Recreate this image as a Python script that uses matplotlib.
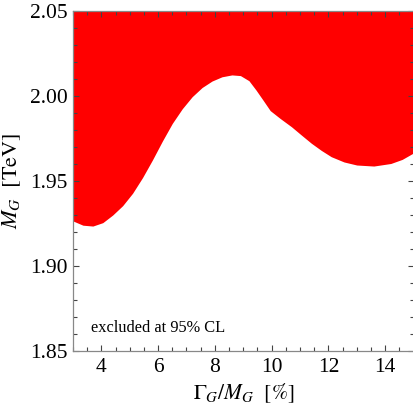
import matplotlib
matplotlib.use('Agg')
from matplotlib import pyplot as plt
from matplotlib.ticker import MultipleLocator, FormatStrFormatter

plt.rcParams['font.family'] = ['Liberation Serif', 'DejaVu Serif']
plt.rcParams['mathtext.fontset'] = 'stix'

# boundary of the excluded region (width in %, mass in TeV)
width = [3.0, 3.35, 3.7, 4.05, 4.4, 4.75, 5.1, 5.45, 5.8, 6.15, 6.5, 6.85,
         7.2, 7.55, 7.9, 8.25, 8.6, 8.9, 9.2, 9.45, 9.7, 9.95,
         10.3, 10.7, 11.05, 11.4, 11.75, 12.1, 12.55, 13.0, 13.6, 14.2, 14.6, 15.0]
mass = [1.9265, 1.9240, 1.9235, 1.9255, 1.9300, 1.9355, 1.9428, 1.9520, 1.9624,
        1.9735, 1.9839, 1.9925, 1.9996, 2.0050, 2.0088, 2.0113, 2.0124, 2.0120,
        2.0090, 2.0035, 1.9975, 1.9914, 1.9868, 1.9819, 1.9770, 1.9722, 1.9680,
        1.9643, 1.9612, 1.9594, 1.9588, 1.9603, 1.9627, 1.9665]

xlim = (3, 15)
ylim = (1.85, 2.05)

fig = plt.figure(figsize=(4.14, 4.09), dpi=100)
ax = fig.add_axes([0.1763, 0.1418, 0.8225, 0.8313])
ax.fill_between(width, mass, ylim[1], color='#ff0000', lw=0, zorder=1)
ax.set_xlim(*xlim)
ax.set_ylim(*ylim)

ax.xaxis.set_major_locator(MultipleLocator(2))
ax.xaxis.set_minor_locator(MultipleLocator(0.5))
ax.yaxis.set_major_locator(MultipleLocator(0.05))
ax.yaxis.set_minor_locator(MultipleLocator(0.01))
ax.tick_params(which='both', direction='in', top=True, right=True,
               color='#444444', width=0.8)
ax.tick_params(which='major', length=4.5)
ax.tick_params(which='minor', length=2.7)
ax.tick_params(axis='y', labelsize=15.5, pad=4)
ax.tick_params(axis='x', labelsize=15.5, pad=5)
ax.yaxis.set_major_formatter(FormatStrFormatter('%.2f'))
for s in ax.spines.values():
    s.set_color('#888888')
    s.set_linewidth(0.9)
    s.set_zorder(3)

ax.set_xlabel(r'$\Gamma_G/M_G\ \ [\%]$', fontsize=15.5, labelpad=3)
ax.set_ylabel(r'$M_G\ \ [\mathrm{TeV}]$', fontsize=16, labelpad=5)
ax.text(3.64, 1.8614, 'excluded at 95% CL', fontsize=11.8)

fig.savefig('out.png', dpi=100)
